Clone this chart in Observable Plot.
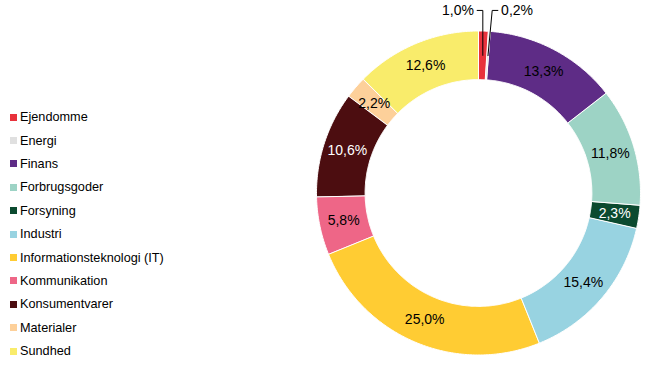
<!DOCTYPE html>
<html><head><meta charset="utf-8">
<script src="https://cdn.jsdelivr.net/npm/d3@7"></script>
<script src="https://cdn.jsdelivr.net/npm/@observablehq/plot@0.6"></script>
<style>
body{margin:0;background:#fff;font-family:Arial,"Liberation Sans",sans-serif;}
#wrap{position:relative;width:650px;height:366px;overflow:hidden;}
#legend{position:absolute;left:10px;top:105.5px;font-size:12.7px;color:#000;}
#legend .it{display:flex;align-items:center;height:23.4px;}
#legend .sw{width:7px;height:7px;margin-right:3px;}
#chart{position:absolute;left:0;top:0;}
</style></head>
<body><div id="wrap"><div id="chart"></div><div id="legend"></div></div>
<script>
const names = ["Ejendomme","Energi","Finans","Forbrugsgoder","Forsyning","Industri","Informationsteknologi (IT)","Kommunikation","Konsumentvarer","Materialer","Sundhed"];
const values = [1.0,0.2,13.3,11.8,2.3,15.4,25.0,5.8,10.6,2.2,12.6];
const labels = ["1,0%","0,2%","13,3%","11,8%","2,3%","15,4%","25,0%","5,8%","10,6%","2,2%","12,6%"];
const colors = ["#e8323c","#e0e0e0","#5e2c86","#9dd3c5","#0b4a2f","#98d3e1","#ffcc33","#ee6687","#4c0d10","#fdd09a","#f9ec6b"];
const textColors = ["#000","#000","#000","#000","#fff","#000","#000","#000","#fff","#000","#000"];
const outside = [true,true,false,false,false,false,false,false,false,false,false];

const rIn = 0.70, rOut = 1.0, rLab = 0.85;
const pie = d3.pie().sort(null).value(d => d)(values);
const polys = [];
pie.forEach((p, i) => {
  const n = Math.max(2, Math.ceil((p.endAngle - p.startAngle) / 0.01));
  for (let k = 0; k <= n; k++) {
    const a = p.startAngle + (p.endAngle - p.startAngle) * k / n;
    polys.push({name: names[i], x: rOut * Math.sin(a), y: rOut * Math.cos(a)});
  }
  for (let k = n; k >= 0; k--) {
    const a = p.startAngle + (p.endAngle - p.startAngle) * k / n;
    polys.push({name: names[i], x: rIn * Math.sin(a), y: rIn * Math.cos(a)});
  }
});
const mids = pie.map((p, i) => {
  const a = (p.startAngle + p.endAngle) / 2;
  return {i, name: names[i], label: labels[i], color: textColors[i], a, x: rLab * Math.sin(a), y: rLab * Math.cos(a)};
});
const inside = mids.filter(d => !outside[d.i]);
const outs = mids.filter(d => outside[d.i]);
const yTop = 1.127;
const leaders = [];
const outLabels = [];
outs.forEach((d, k) => {
  const dir = k === 0 ? -1 : 1;
  const xTop = d.x + (dir > 0 ? 0.026 : 0);
  const xEnd = xTop + dir * 0.035;
  leaders.push({g: d.name, x: d.x, y: d.y}, {g: d.name, x: xTop, y: yTop}, {g: d.name, x: xEnd, y: yTop});
  outLabels.push({label: d.label, x: xEnd + dir * 0.02, y: yTop, anchor: dir < 0 ? "end" : "start"});
});

const chart = Plot.plot({
  width: 650, height: 366,
  margin: 0,
  x: {domain: [-1, 1], range: [316, 640], axis: null},
  y: {domain: [-1, 1], range: [354.5, 30.5], axis: null},
  color: {domain: names, range: colors},
  style: {fontFamily: "Arial, 'Liberation Sans', sans-serif", background: "#fff"},
  marks: [
    Plot.line(polys, {x: "x", y: "y", z: "name", fill: "name", stroke: "white", strokeWidth: 1, curve: "linear-closed"}),
    Plot.text(inside, {x: "x", y: "y", text: "label", fill: d => d.color, fontSize: 14}),
    Plot.line(leaders, {x: "x", y: "y", z: "g", stroke: "#000", strokeWidth: 1}),
    Plot.text(outLabels.filter(d => d.anchor === "end"), {x: "x", y: "y", text: "label", textAnchor: "end", fontSize: 14, fill: "#000"}),
    Plot.text(outLabels.filter(d => d.anchor === "start"), {x: "x", y: "y", text: "label", textAnchor: "start", fontSize: 14, fill: "#000"})
  ]
});
document.getElementById("chart").appendChild(chart);

const lg = d3.select("#legend");
names.forEach((n, i) => {
  const it = lg.append("div").attr("class", "it");
  it.append("div").attr("class", "sw").style("background", colors[i]);
  it.append("span").text(n);
});
</script></body></html>
